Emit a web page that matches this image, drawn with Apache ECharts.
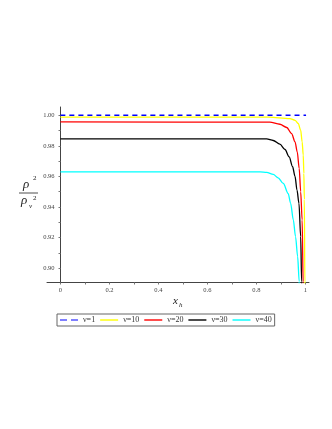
<!DOCTYPE html>
<html><head><meta charset="utf-8">
<script src="https://cdn.jsdelivr.net/npm/echarts@6/dist/echarts.min.js"></script>
<style>html,body{margin:0;padding:0;background:#fff}#c{width:332px;height:429px}</style>
</head><body><div id="c"></div>
<script>
const seriesNames = ['ν=1', 'ν=10', 'ν=20', 'ν=30', 'ν=40'];
const x1 = [0, 1.003];
const y1 = [1.000, 1.000];
const x10 = [0, 0.85, 0.937, 0.958, 0.971, 0.981, 0.987, 0.9915, 0.994, 0.996, 0.998, 0.999];
const y10 = [0.9988, 0.9988, 0.9978, 0.9967, 0.9946, 0.9902, 0.9826, 0.9739, 0.962, 0.945, 0.891, 0.86];
const x20 = [0, 0.855, 0.896, 0.924, 0.944, 0.958, 0.967, 0.975, 0.981, 0.987, 0.991, 0.993];
const y20 = [0.9957, 0.9955, 0.9941, 0.9920, 0.9880, 0.9826, 0.9760, 0.9652, 0.9500, 0.9315, 0.891, 0.87];
const x30 = [0, 0.842, 0.869, 0.896, 0.917, 0.934, 0.948, 0.958, 0.966, 0.974, 0.981, 0.985, 0.987];
const y30 = [0.9846, 0.9845, 0.9835, 0.9811, 0.9776, 0.9728, 0.9663, 0.9600, 0.9510, 0.9424, 0.9206, 0.891, 0.87];
const x40 = [0, 0.815, 0.842, 0.869, 0.889, 0.910, 0.930, 0.940, 0.951, 0.960, 0.9686, 0.975, 0.977];
const y40 = [0.9630, 0.9630, 0.9626, 0.9613, 0.9591, 0.9554, 0.9488, 0.9424, 0.9315, 0.9206, 0.9076, 0.8913, 0.87];
const yTicks = [0.90, 0.92, 0.94, 0.96, 0.98, 1.00];
const yMinorTicks = [0.89, 0.90, 0.91, 0.92, 0.93, 0.94, 0.95, 0.96, 0.97, 0.98, 0.99, 1.00];
const xTicks = [0, 0.2, 0.4, 0.6, 0.8, 1];
const xMinorTicks = [0, 0.1, 0.2, 0.3, 0.4, 0.5, 0.6, 0.7, 0.8, 0.9, 1];

const xs = [x1, x10, x20, x30, x40];
const ys = [y1, y10, y20, y30, y40];
const colors = ['#0000ff', '#ffff00', '#ff0000', '#000000', '#00ffff'];
const pair = (xa, ya) => xa.map((v, i) => [v, ya[i]]);

const chart = echarts.init(document.getElementById('c'));
const serif = 'Liberation Serif, Times New Roman, serif';
chart.setOption({
  animation: false,
  grid: {left: 47, right: 23, top: 107, bottom: 146.5, containLabel: false},
  xAxis: {
    type: 'value', min: -0.055, max: 1.015,
    splitLine: {show: false},
    axisLine: {onZero: false, lineStyle: {color: '#444', width: 1}},
    axisTick: {show: true, length: 2, customValues: xMinorTicks, lineStyle: {color: '#777'}},
    axisLabel: {customValues: xTicks, margin: 4, color: '#444', fontFamily: serif, fontSize: 6.5,
      formatter: v => String(Math.round(v * 10) / 10)}
  },
  yAxis: {
    type: 'value', min: 0.8906, max: 1.0054, offset: -13.5,
    splitLine: {show: false},
    axisLine: {onZero: false, lineStyle: {color: '#444', width: 1}},
    axisTick: {show: true, length: 2, customValues: yMinorTicks, lineStyle: {color: '#777'}},
    axisLabel: {customValues: yTicks, margin: 6, color: '#444', fontFamily: serif, fontSize: 6.5,
      formatter: v => v.toFixed(2)}
  },
  legend: {
    left: 57, top: 314, orient: 'horizontal',
    padding: [2, 3, 2, 3],
    borderColor: '#666', borderWidth: 1,
    itemWidth: 18, itemHeight: 1.4, itemGap: 5,
    textStyle: {fontFamily: serif, fontSize: 8, color: '#333'},
    data: seriesNames.map((n, i) => ({
      name: n,
      icon: i === 0 ? 'path://M0,0h7v1h-7z M11,0h7v1h-7z' : 'rect'
    }))
  },
  graphic: [
    {type: 'text', left: 23, top: 178, style: {text: 'ρ', font: 'italic 13px ' + serif, fill: '#222'}},
    {type: 'text', left: 33, top: 175, style: {text: '2', font: '7px ' + serif, fill: '#222'}},
    {type: 'line', shape: {x1: 19, y1: 193, x2: 38, y2: 193}, style: {stroke: '#222', lineWidth: 0.8}},
    {type: 'text', left: 21, top: 194, style: {text: 'ρ', font: 'italic 13px ' + serif, fill: '#222'}},
    {type: 'text', left: 29, top: 203, style: {text: 'ν', font: 'italic 7px ' + serif, fill: '#222'}},
    {type: 'text', left: 33, top: 195, style: {text: '2', font: '7px ' + serif, fill: '#222'}},
    {type: 'text', left: 173, top: 296, style: {text: 'x', font: 'italic 11px ' + serif, fill: '#222'}},
    {type: 'text', left: 179, top: 302, style: {text: 'h', font: 'italic 7px ' + serif, fill: '#222'}}
  ],
  series: seriesNames.map((n, i) => ({
    name: n, type: 'line', data: pair(xs[i], ys[i]),
    symbol: 'none', showSymbol: false, smooth: 0.3, smoothMonotone: 'x', clip: true,
    lineStyle: {color: colors[i], width: 1.3, type: i === 0 ? [5, 4] : 'solid'},
    itemStyle: {color: colors[i]},
    z: 10 - i
  }))
});
</script></body></html>
